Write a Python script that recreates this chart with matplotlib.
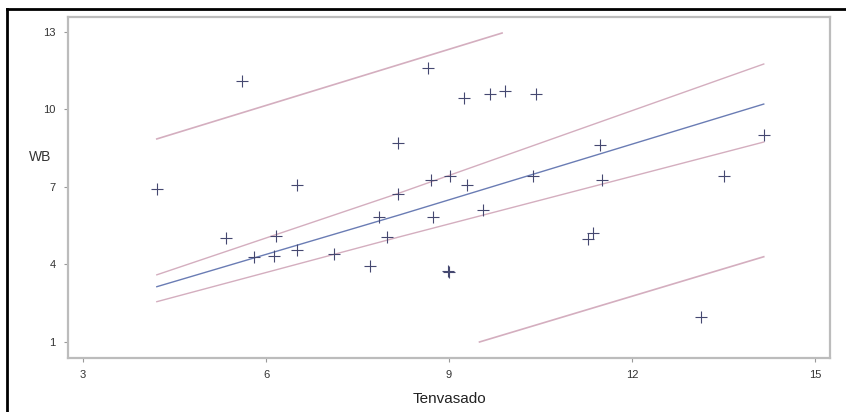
import matplotlib
matplotlib.use("Agg")
import matplotlib.pyplot as plt
from matplotlib.lines import Line2D

plt.rcParams["font.family"] = ["Liberation Sans", "DejaVu Sans"]

# Observations: Tenvasado vs WB
tenvasado = [4.21, 5.60, 5.34, 5.80, 6.13, 6.16, 6.50, 6.50, 7.11, 7.70,
             7.86, 7.99, 8.16, 8.16, 8.65, 8.70, 8.74, 9.01, 8.99, 9.00,
             9.30, 9.25, 9.55, 9.68, 9.92, 10.43, 10.38, 11.28, 11.36,
             11.48, 11.51, 13.13, 13.51, 14.16]
wb = [6.93, 11.10, 5.03, 4.30, 4.33, 5.11, 4.57, 7.08, 4.41, 3.95,
      5.84, 5.07, 6.73, 8.71, 11.60, 7.27, 5.84, 7.43, 3.75, 3.70,
      7.08, 10.45, 6.11, 10.60, 10.70, 10.60, 7.43, 4.99, 5.22,
      8.63, 7.27, 1.97, 7.43, 9.02]

# Fitted line with confidence limits for the mean
band_x = [4.21, 8.19, 14.16]
fit_y = [3.14, 5.92, 10.21]
clm_upper = [3.60, 6.77, 11.76]
clm_lower = [2.56, 5.07, 8.74]

# Prediction limits (shown inside the 1-13 axis range)
pred_upper_x = [4.21, 9.87]
pred_upper_y = [8.86, 12.96]
pred_lower_x = [9.50, 14.16]
pred_lower_y = [1.00, 4.30]

x_ticks = [3, 6, 9, 12, 15]
y_ticks = [1, 4, 7, 10, 13]

fig = plt.figure(figsize=(8.46, 4.12), dpi=100)
ax = fig.add_axes([68 / 846, 1 - 358 / 412, (830 - 68) / 846, (358 - 17) / 412])

red = "#d4aebf"
blue = "#6a7cb4"
ax.plot(pred_upper_x, pred_upper_y, color=red, lw=1.2)
ax.plot(pred_lower_x, pred_lower_y, color=red, lw=1.2)
ax.plot(band_x, clm_upper, color=red, lw=1.0)
ax.plot(band_x, clm_lower, color=red, lw=1.0)
ax.plot(band_x, fit_y, color=blue, lw=1.0)
ax.plot(tenvasado, wb, linestyle="none", marker="+", markersize=8.5,
        markeredgewidth=0.8, color="#454870")

ax.set_xlim(2.754, 15.246)
ax.set_ylim(0.38, 13.58)
ax.set_xticks(x_ticks)
ax.set_yticks(y_ticks)
ax.set_xticklabels([str(t) for t in x_ticks], fontsize=8, color="#333333")
ax.set_yticklabels([str(t) for t in y_ticks], fontsize=8, color="#333333")
ax.tick_params(axis="both", direction="out", length=3, width=0.8,
               color="#999999", pad=6)

for s in ax.spines.values():
    s.set_color("#bcbcbc")
    s.set_linewidth(1.6)

ax.set_xlabel("Tenvasado", fontsize=11, color="#222222", labelpad=8)
fig.text(40 / 846, 1 - 157 / 412, "WB", fontsize=10, color="#333333",
         ha="center", va="center")

# Outer black frame edges
fig.add_artist(Line2D([7 / 846, 7 / 846], [0, 1 - 9 / 412],
                      transform=fig.transFigure, color="black", lw=2))
fig.add_artist(Line2D([7 / 846, 1], [1 - 9 / 412, 1 - 9 / 412],
                      transform=fig.transFigure, color="black", lw=2))

fig.savefig("out.png", dpi=100)
